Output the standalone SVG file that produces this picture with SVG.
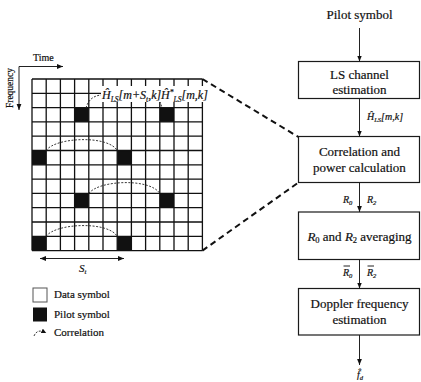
<svg xmlns="http://www.w3.org/2000/svg" width="421" height="382" viewBox="0 0 421 382">
  <defs>
    <marker id="arr" viewBox="0 0 10 10" refX="10" refY="5" markerWidth="6" markerHeight="8" markerUnits="userSpaceOnUse" orient="auto">
      <path d="M0,1 L10,5 L0,9 z" fill="#111"/>
    </marker>
    <marker id="arrS" viewBox="0 0 10 10" refX="0" refY="5" markerWidth="6" markerHeight="8" markerUnits="userSpaceOnUse" orient="auto">
      <path d="M10,1 L0,5 L10,9 z" fill="#111"/>
    </marker>
    <marker id="arrSm" viewBox="0 0 10 10" refX="5" refY="5" markerWidth="5" markerHeight="5" markerUnits="userSpaceOnUse" orient="auto">
      <path d="M0,0 L10,5 L0,10 z" fill="#111"/>
    </marker>
  </defs>
  <style>
    text { font-family: "Liberation Serif", "Times New Roman", serif; fill: #111; stroke: #111; stroke-width: 0.2; }
    .box { fill: #fff; stroke: #1a1a1a; stroke-width: 1.2; }
    .bt { font-size: 13px; text-anchor: middle; }
    .it { font-style: italic; }
    .grid { stroke: #111; stroke-width: 1.3; fill: none; }
    .pilot { fill: #111; }
    .arc { fill: none; stroke: #222; stroke-width: 0.9; stroke-dasharray: 2 1.5; }
    .conn { stroke: #222; stroke-width: 1; fill: none; }
    .zoom { stroke: #111; stroke-width: 2; stroke-dasharray: 6 4; fill: none; }
    .leg { font-size: 11px; }
  </style>
  <rect width="421" height="382" fill="#fff"/>

  <!-- time / frequency axes -->
  <g id="axes">
    <path class="conn" d="M19,66.5 H63" marker-end="url(#arr)"/>
    <path class="conn" d="M19,66.5 V110" marker-end="url(#arr)"/>
    <text x="33" y="61" font-size="10">Time</text>
    <text x="0" y="0" font-size="9.5" text-anchor="middle" transform="translate(13,88) rotate(-90)">Frequency</text>
  </g>

  <!-- resource grid: 12 x 12 cells -->
  <g id="grid">
    <rect x="32" y="79" width="170.4" height="171.6" fill="#fff"/>
    <g class="pilot">
      <rect x="74.6" y="107.6" width="14.2" height="14.3"/>
      <rect x="159.8" y="107.6" width="14.2" height="14.3"/>
      <rect x="32" y="150.5" width="14.2" height="14.3"/>
      <rect x="117.2" y="150.5" width="14.2" height="14.3"/>
      <rect x="74.6" y="193.4" width="14.2" height="14.3"/>
      <rect x="159.8" y="193.4" width="14.2" height="14.3"/>
      <rect x="32" y="236.3" width="14.2" height="14.3"/>
      <rect x="117.2" y="236.3" width="14.2" height="14.3"/>
    </g>
    <path class="grid" d="M32,79 V250.6 M46.2,79 V250.6 M60.4,79 V250.6 M74.6,79 V250.6 M88.8,79 V250.6 M103,79 V250.6 M117.2,79 V250.6 M131.4,79 V250.6 M145.6,79 V250.6 M159.8,79 V250.6 M174,79 V250.6 M188.2,79 V250.6 M202.4,79 V250.6
      M32,79 H202.4 M32,93.3 H202.4 M32,107.6 H202.4 M32,121.9 H202.4 M32,136.2 H202.4 M32,150.5 H202.4 M32,164.8 H202.4 M32,179.1 H202.4 M32,193.4 H202.4 M32,207.7 H202.4 M32,222 H202.4 M32,236.3 H202.4 M32,250.6 H202.4"/>
  </g>

  <!-- correlation arcs between pilot pairs -->
  <g id="correlations">
    <path class="arc" d="M86,108 C88,101 92,96 101,95"/>
    <path class="arc" d="M157,99 C160,101 161,104 162,108"/>
    <path class="arc" d="M46,150.5 C56,137 108,135 117.2,150.5"/>
    <path class="arc" d="M88.8,193.4 C99,180 150,178 159.8,193.4"/>
    <path class="arc" d="M46,236.3 C56,223 108,221 117.2,236.3"/>
  </g>

  <!-- correlation product label -->
  <g id="product-label">
    <rect x="101" y="86" width="107" height="16" fill="#fff"/>
    <text x="102" y="99" font-size="12" class="it">Ĥ<tspan font-size="7.5" dy="2.5">LS</tspan><tspan dy="-2.5">[m+S</tspan><tspan font-size="7.5" dy="2.5">t</tspan><tspan dy="-2.5">,k]Ĥ</tspan><tspan font-size="7.5" dy="-4">*</tspan><tspan font-size="7.5" dy="6.5">LS</tspan><tspan dy="-2.5">[m,k]</tspan></text>
  </g>

  <!-- pilot spacing -->
  <g id="spacing">
    <path class="conn" d="M40,258.5 H124" marker-start="url(#arrS)" marker-end="url(#arr)"/>
    <text x="79" y="272" font-size="11" class="it">S<tspan font-size="7" dy="2">t</tspan></text>
  </g>

  <!-- legend -->
  <g id="legend">
    <rect x="33" y="288" width="14" height="14" fill="#fff" stroke="#555" stroke-width="1"/>
    <text x="54" y="298" class="leg">Data symbol</text>
    <rect x="33" y="307.5" width="14" height="14" fill="#111"/>
    <text x="54" y="317.5" class="leg">Pilot symbol</text>
    <path class="arc" d="M34,336 C36,331 40,330 44,332" marker-end="url(#arrSm)"/>
    <text x="54" y="336" class="leg">Correlation</text>
  </g>

  <!-- connectors -->
  <g id="connectors">
    <path class="zoom" d="M202.4,79 L298.5,137"/>
    <path class="zoom" d="M202.4,250.6 L298.5,182.5"/>
    <path class="conn" d="M359.5,28 V61.5" marker-end="url(#arr)"/>
    <path class="conn" d="M359.5,98.5 V136.5" marker-end="url(#arr)"/>
    <path class="conn" d="M359.5,182.5 V212" marker-end="url(#arr)"/>
    <path class="conn" d="M359.5,259.5 V288.5" marker-end="url(#arr)"/>
    <path class="conn" d="M359.5,335 V365" marker-end="url(#arr)"/>
  </g>

  <!-- connector labels -->
  <g id="connector-labels">
    <text x="367" y="120" font-size="10" class="it">Ĥ<tspan font-size="6.5" dy="2">LS</tspan><tspan dy="-2">[m,k]</tspan></text>
    <text x="343" y="203" font-size="10" class="it">R<tspan font-size="6.5" dy="2">0</tspan></text>
    <text x="367" y="203" font-size="10" class="it">R<tspan font-size="6.5" dy="2">2</tspan></text>
    <path class="conn" d="M343.5,266 H350 M367.5,266 H374"/>
    <text x="343" y="276" font-size="10" class="it">R<tspan font-size="6.5" dy="2">0</tspan></text>
    <text x="367" y="276" font-size="10" class="it">R<tspan font-size="6.5" dy="2">2</tspan></text>
    <text x="357" y="378" font-size="10" class="it">f̂<tspan font-size="6.5" dy="2">d</tspan></text>
  </g>

  <!-- flowchart nodes -->
  <g id="pilot-input">
    <text x="359.5" y="19" class="bt" font-size="13.5">Pilot symbol</text>
  </g>
  <g id="ls-estimation">
    <rect class="box" x="298.5" y="61.5" width="121" height="37"/>
    <text x="359.5" y="79" class="bt">LS channel</text>
    <text x="359.5" y="94" class="bt">estimation</text>
  </g>
  <g id="correlation-power">
    <rect class="box" x="298.5" y="136.5" width="121" height="46"/>
    <text x="359.5" y="156" class="bt">Correlation and</text>
    <text x="359.5" y="172" class="bt">power calculation</text>
  </g>
  <g id="averaging">
    <rect class="box" x="298.5" y="212" width="121" height="47.5"/>
    <text x="359.5" y="240.5" class="bt"><tspan class="it">R</tspan><tspan font-size="8.5" dy="2">0</tspan><tspan dy="-2"> and </tspan><tspan class="it">R</tspan><tspan font-size="8.5" dy="2">2</tspan><tspan dy="-2"> averaging</tspan></text>
  </g>
  <g id="doppler-estimation">
    <rect class="box" x="298.5" y="288.5" width="121" height="46.5"/>
    <text x="359.5" y="308" class="bt">Doppler frequency</text>
    <text x="359.5" y="324" class="bt">estimation</text>
  </g>
</svg>
